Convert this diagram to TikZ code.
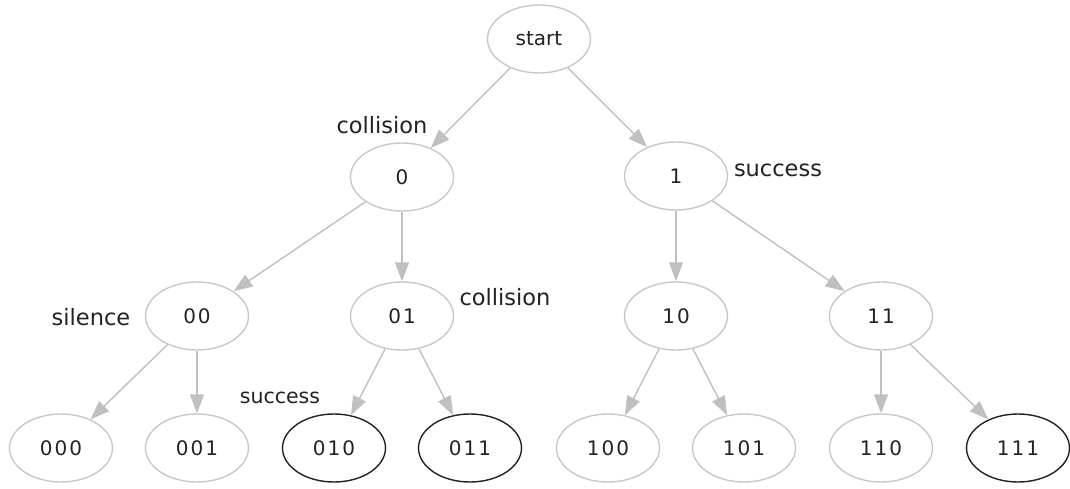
\documentclass[tikz,border=0pt]{standalone}
\usepackage{fontspec}
\setmainfont{DejaVu Sans}
\newfontfamily\digitfont[LetterSpace=10]{DejaVu Sans}
\usetikzlibrary{shapes.geometric,arrows.meta}
\definecolor{edgegray}{HTML}{C0C0C0}
\definecolor{nodegray}{HTML}{C8C8C8}
\definecolor{inkdark}{HTML}{222222}
\tikzset{
  state/.style={ellipse, draw=nodegray, line width=1.4pt, minimum width=103pt,
    minimum height=68pt, inner sep=0pt, text=inkdark,
    font=\digitfont\fontsize{20}{24}\selectfont},
  done/.style={state, draw=inkdark},
  edgelabel/.style={text=inkdark, inner sep=0pt, font=\fontsize{22.5}{27}\selectfont},
  smalllabel/.style={edgelabel, font=\fontsize{20.5}{24}\selectfont},
  branch/.style={draw=edgegray, line width=1.4pt,
    -{Triangle[length=19pt, width=14pt]}}
}
\begin{document}
\begin{tikzpicture}[x=1pt, y=-1pt]
  \useasboundingbox (0,0) rectangle (1070,489);
  % tree of slots
  \node[state, font=\fontsize{20}{24}\selectfont] (start) at (539,39) {start};
  \node[state] (n0)  at (402,177) {0};
  \node[state] (n1)  at (676,176) {1};
  \node[state] (n00) at (197,316) {00};
  \node[state] (n01) at (402,316) {01};
  \node[state] (n10) at (676,316) {10};
  \node[state] (n11) at (881,316) {11};
  \node[state] (n000) at (61,448)  {000};
  \node[state] (n001) at (197,448) {001};
  \node[done]  (n010) at (334,448) {010};
  \node[done]  (n011) at (470,448) {011};
  \node[state] (n100) at (608,448) {100};
  \node[state] (n101) at (744,448) {101};
  \node[state] (n110) at (881,448) {110};
  \node[done]  (n111) at (1018,448) {111};
  % outcome labels
  \node[edgelabel] (lc0)  at (382,125) {collision};
  \node[edgelabel] (ls1)  at (778,170) {success};
  \node[edgelabel] (ls00) at (91,317) {silence};
  \node[edgelabel] (lc01) at (505,297) {collision};
  \node[smalllabel] (ls010) at (280,398) {success};
  % branches
  \draw[branch] (start) -- (n0);
  \draw[branch] (start) -- (n1);
  \draw[branch] (n0) -- (n00);
  \draw[branch] (n0) -- (n01);
  \draw[branch] (n1) -- (n10);
  \draw[branch] (n1) -- (n11);
  \draw[branch] (n00) -- (n000);
  \draw[branch] (n00) -- (n001);
  \draw[branch] (n01) -- (n010);
  \draw[branch] (n01) -- (n011);
  \draw[branch] (n10) -- (n100);
  \draw[branch] (n10) -- (n101);
  \draw[branch] (n11) -- (n110);
  \draw[branch] (n11) -- (n111);
\end{tikzpicture}
\end{document}
